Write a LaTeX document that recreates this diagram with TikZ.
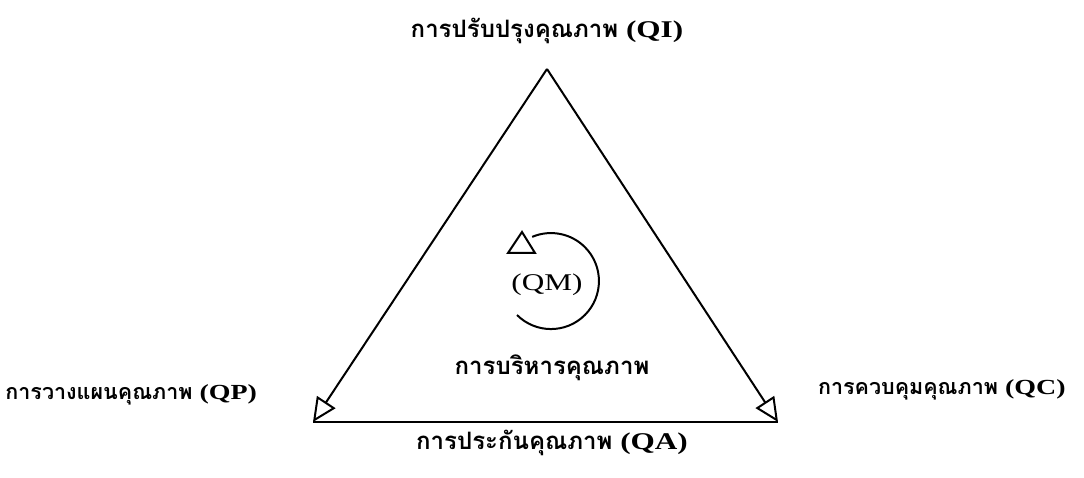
\documentclass[tikz,border=0pt]{standalone}
\usepackage{fontspec}
\setmainfont[FakeStretch=1.3]{Liberation Serif}
\newfontfamily\thaifont[Script=Thai]{Loma}
\usetikzlibrary{arrows.meta}

\begin{document}
\begin{tikzpicture}[x=1pt,y=-1pt,line width=2pt,
  tri/.style={-{Triangle[open,length=24pt,width=22pt]}},
  lbl/.style={font=\bfseries\fontsize{24}{26}\selectfont,inner sep=0pt},
  side/.style={lbl,font=\bfseries\fontsize{21.5}{24}\selectfont}]
\useasboundingbox (0,0) rectangle (1084,478);
\coordinate (QI) at (547,69);
\coordinate (QP) at (313,422);
\coordinate (QC) at (778,422);
\draw[tri] (QI) -- (QP);
\draw[tri] (QI) -- (QC);
\draw (QP) -- (QC);
% circular arrow in the middle
\coordinate (M) at (552,281);
\draw (517,315) arc[start angle=135,end angle=-113,radius=48];
\draw (508,253) -- (522,232) -- (535,253) -- cycle;
% labels
\node[lbl] (qi) at (547,31) {{\thaifont การปรับปรุงคุณภาพ} (QI)};
\node[side,anchor=east] (qp) at (258,395) {{\thaifont การวางแผนคุณภาพ} (QP)};
\node[side,anchor=west] (qc) at (817,390) {{\thaifont การควบคุมคุณภาพ} (QC)};
\node[lbl] (qa) at (552,443) {{\thaifont การประกันคุณภาพ} (QA)};
\node[lbl,font=\fontsize{24}{26}\selectfont] (qm) at (547,285) {(QM)};
\node[lbl] (qmt) at (552,368) {\thaifont การบริหารคุณภาพ};
\end{tikzpicture}
\end{document}
